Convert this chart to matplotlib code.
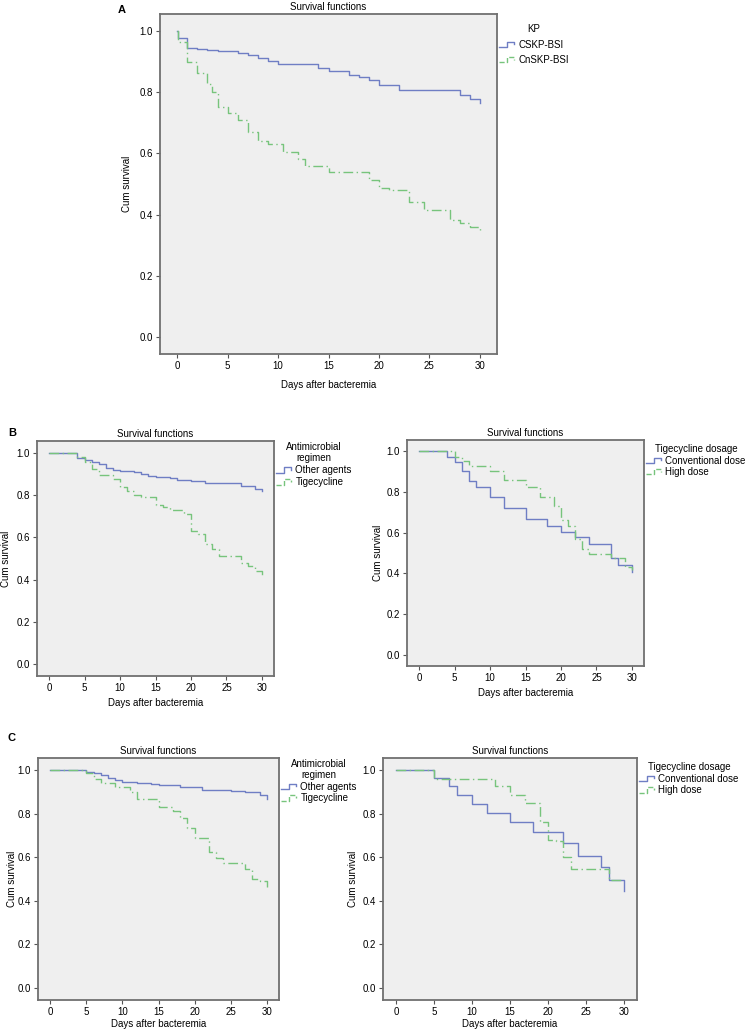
import numpy as np
import matplotlib
matplotlib.use('Agg')
import matplotlib.pyplot as plt
from matplotlib.legend_handler import HandlerBase
from matplotlib.lines import Line2D

plt.rcParams['font.family'] = ['Liberation Sans', 'DejaVu Sans']
plt.rcParams['font.size'] = 7

# ---------------- data (day, cumulative survival after the step) ----------------
# Panel A: KP
a_cskp_days = [0, 0.1, 1, 2, 3, 4, 5, 6, 7, 8, 9, 10, 14, 15, 17, 18, 19, 20, 22, 28, 29, 30]
a_cskp_surv = [1.0, 0.978, 0.943, 0.940, 0.938, 0.935, 0.933, 0.929, 0.922, 0.911, 0.902, 0.891,
               0.880, 0.869, 0.855, 0.848, 0.840, 0.824, 0.807, 0.791, 0.778, 0.764]
a_cnskp_days = [0, 0.1, 1, 2, 3, 3.5, 4, 5, 6, 7, 8, 9, 10.5, 12, 12.7, 15, 19, 20, 21, 23, 24.5,
                27, 28, 29, 30]
a_cnskp_surv = [1.0, 0.965, 0.897, 0.862, 0.827, 0.800, 0.753, 0.733, 0.709, 0.671, 0.639, 0.631,
                0.606, 0.581, 0.560, 0.538, 0.514, 0.486, 0.479, 0.440, 0.416, 0.383, 0.374,
                0.358, 0.350]

# Panel B left: antimicrobial regimen
b1_other_days = [0, 4, 5, 6, 7, 8, 9, 10, 12, 13, 14, 15, 17, 18, 20, 22, 27, 29, 30]
b1_other_surv = [1.0, 0.977, 0.967, 0.956, 0.945, 0.928, 0.919, 0.914, 0.908, 0.898, 0.891,
                 0.886, 0.880, 0.873, 0.866, 0.858, 0.842, 0.829, 0.818]
b1_tige_days = [0, 4, 5, 6, 7, 9, 10, 11, 12, 13, 15, 16, 17, 19, 20, 21, 22, 23, 24, 27, 28, 29, 30]
b1_tige_surv = [1.0, 0.980, 0.956, 0.925, 0.894, 0.875, 0.839, 0.820, 0.800, 0.789, 0.755, 0.745,
                0.727, 0.711, 0.628, 0.615, 0.570, 0.544, 0.512, 0.478, 0.464, 0.440, 0.420]

# Panel B right: tigecycline dosage
b2_conv_days = [0, 4, 5, 6, 7, 8, 10, 12, 15, 18, 20, 22, 24, 27, 28, 30]
b2_conv_surv = [1.0, 0.972, 0.948, 0.902, 0.854, 0.823, 0.774, 0.720, 0.667, 0.634, 0.603,
                0.577, 0.543, 0.473, 0.440, 0.407]
b2_high_days = [0, 5, 6, 7, 10, 12, 15, 17, 19, 20, 21, 22, 23, 24, 27, 29, 30]
b2_high_surv = [1.0, 0.973, 0.951, 0.928, 0.904, 0.859, 0.826, 0.777, 0.732, 0.660, 0.631,
                0.569, 0.519, 0.494, 0.476, 0.430, 0.417]

# Panel C left: antimicrobial regimen
c1_other_days = [0, 5, 6, 7, 8, 9, 10, 12, 14, 15, 18, 21, 25, 27, 29, 30]
c1_other_surv = [1.0, 0.990, 0.985, 0.975, 0.965, 0.955, 0.945, 0.940, 0.935, 0.930, 0.920,
                 0.910, 0.905, 0.899, 0.884, 0.866]
c1_tige_days = [0, 5, 6, 7, 9, 11, 12, 15, 17, 18, 19, 20, 22, 23, 24, 27, 28, 29, 30]
c1_tige_surv = [1.0, 0.985, 0.960, 0.940, 0.920, 0.900, 0.866, 0.828, 0.812, 0.780, 0.735,
                0.686, 0.625, 0.595, 0.575, 0.544, 0.498, 0.491, 0.465]

# Panel C right: tigecycline dosage
c2_conv_days = [0, 5, 7, 8, 10, 12, 15, 18, 22, 24, 27, 28, 30]
c2_conv_surv = [1.0, 0.963, 0.925, 0.887, 0.846, 0.803, 0.761, 0.714, 0.665, 0.607, 0.555,
                0.497, 0.443]
c2_high_days = [0, 5, 13, 15, 17, 19, 20, 21, 22, 23, 28, 30]
c2_high_surv = [1.0, 0.960, 0.925, 0.884, 0.848, 0.760, 0.680, 0.673, 0.600, 0.548, 0.497, 0.497]

x_ticks = [0, 5, 10, 15, 20, 25, 30]
y_ticks = [0.0, 0.2, 0.4, 0.6, 0.8, 1.0]

BLUE = '#6f7ec4'
GREEN = '#77c47c'
GREEN_DASH = (0, (7, 2.5, 1, 2.5))
W, H = 746, 1032


class StepHandler(HandlerBase):
    # legend glyph drawn as a little step like SPSS does
    def create_artists(self, legend, orig, xd, yd, w, h, fontsize, trans):
        x0, y0 = -xd, -yd
        xs = np.array([0, 0.5, 0.5, 0.95, 0.95]) * w + x0
        ys = np.array([0.1, 0.1, 0.9, 0.9, 0.5]) * h + y0
        ln = Line2D(xs, ys, color=orig.get_color(), lw=orig.get_linewidth(),
                    linestyle=orig.get_linestyle(), transform=trans)
        return [ln]


def px_axes(fig, left, top, right, bottom):
    return fig.add_axes([left / W, 1 - bottom / H, (right - left) / W, (bottom - top) / H])


def km_panel(ax, curves, legend_title, xlab_off, ylab_x, leg_y, leg_space):
    handles = []
    for days, surv, col, ls, lab in curves:
        ln, = ax.step(days, surv, where='post', color=col, lw=1.0, linestyle=ls, label=lab)
        handles.append(ln)
    ax.set_facecolor('#efefef')
    ax.set_xlim(-1.7, 31.7)
    ax.set_ylim(-0.055, 1.055)
    ax.set_xticks(x_ticks)
    ax.set_yticks(y_ticks)
    ax.set_yticklabels([f'{v:.1f}' for v in y_ticks])
    ax.tick_params(direction='out', length=3, width=0.8, color='#555555', pad=2, labelsize=7)
    for s in ax.spines.values():
        s.set_color('#707070')
        s.set_linewidth(1.3)
    ax.set_title('Survival functions', fontsize=7, pad=3)
    ax.set_xlabel('Days after bacteremia', fontsize=7)
    ax.set_ylabel('Cum survival', fontsize=7)
    ax.xaxis.set_label_coords(0.5, xlab_off)
    ax.yaxis.set_label_coords(ylab_x, 0.5)
    leg = ax.legend(handles=handles, title=legend_title, loc='upper left',
                    bbox_to_anchor=(1.0, leg_y), frameon=False, fontsize=7, title_fontsize=7,
                    handlelength=1.6, handletextpad=0.4, labelspacing=leg_space, borderaxespad=0,
                    borderpad=0.2, handler_map={Line2D: StepHandler()})
    leg._legend_box.align = 'center'
    leg.get_title().set_multialignment('center')
    return ax


fig = plt.figure(figsize=(W / 100, H / 100), dpi=100)

axA = px_axes(fig, 160, 14, 497, 354)
km_panel(axA, [(a_cskp_days, a_cskp_surv, BLUE, '-', 'CSKP-BSI'),
               (a_cnskp_days, a_cnskp_surv, GREEN, GREEN_DASH, 'CnSKP-BSI')],
         'KP', -0.077, -0.083, 0.975, 0.55)

axB1 = px_axes(fig, 37, 441, 274, 676)
km_panel(axB1, [(b1_other_days, b1_other_surv, BLUE, '-', 'Other agents'),
                (b1_tige_days, b1_tige_surv, GREEN, GREEN_DASH, 'Tigecycline')],
         'Antimicrobial\nregimen', -0.095, -0.11, 1.005, 0.2)

axB2 = px_axes(fig, 407, 440, 644, 666)
km_panel(axB2, [(b2_conv_days, b2_conv_surv, BLUE, '-', 'Conventional dose'),
                (b2_high_days, b2_high_surv, GREEN, GREEN_DASH, 'High dose')],
         'Tigecycline dosage', -0.097, -0.10, 0.99, 0.15)

axC1 = px_axes(fig, 38, 758, 279, 1000)
km_panel(axC1, [(c1_other_days, c1_other_surv, BLUE, '-', 'Other agents'),
                (c1_tige_days, c1_tige_surv, GREEN, GREEN_DASH, 'Tigecycline')],
         'Antimicrobial\nregimen', -0.08, -0.087, 1.005, 0.15)

axC2 = px_axes(fig, 383, 758, 637, 1000)
km_panel(axC2, [(c2_conv_days, c2_conv_surv, BLUE, '-', 'Conventional dose'),
                (c2_high_days, c2_high_surv, GREEN, GREEN_DASH, 'High dose')],
         'Tigecycline dosage', -0.08, -0.10, 0.99, 0.15)

fig.text(118 / W, 1 - 10 / H, 'A', fontsize=8, fontweight='bold', va='center')
fig.text(8 / W, 1 - 433 / H, 'B', fontsize=8, fontweight='bold', va='center')
fig.text(8 / W, 1 - 738 / H, 'C', fontsize=8, fontweight='bold', va='center')

fig.savefig('out.png', dpi=100, facecolor='white')
